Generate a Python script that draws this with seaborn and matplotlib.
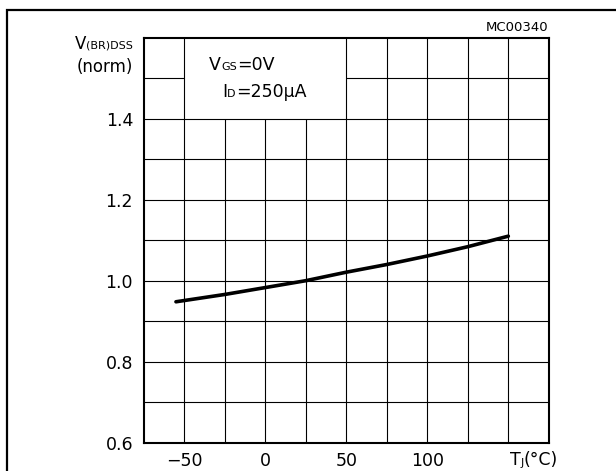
import matplotlib
matplotlib.use("Agg")
import matplotlib.pyplot as plt
import seaborn as sns
from matplotlib.patches import Rectangle

# curve
temps = [-55, -50, -25, 0, 25, 50, 75, 100, 125, 150]
vbr_norm = [0.948, 0.951, 0.966, 0.983, 1.000, 1.021, 1.040, 1.061, 1.084, 1.110]

x_ticks = [-50, 0, 50, 100]
y_ticks = [0.6, 0.8, 1.0, 1.2, 1.4]
x_grid = [-50, -25, 0, 25, 50, 75, 100, 125, 150]
y_grid = [0.7, 0.8, 0.9, 1.0, 1.1, 1.2, 1.3, 1.4]

sns.set_theme(style="white")
plt.rcParams["font.family"] = ["DejaVu Sans"]
plt.rcParams["text.color"] = "black"

fig = plt.figure(figsize=(6.16, 4.71), dpi=100)
ax = fig.add_axes([0.233, 0.060, 0.658, 0.860])
ax.set_xlim(-75, 175)
ax.set_ylim(0.6, 1.6)

# grid, with the blank box behind the test conditions
for x in x_grid:
    top = 1.4 if -50 < x < 50 else 1.6
    ax.vlines(x, 0.6, top, color="black", lw=0.8, zorder=1)
for y in y_grid:
    ax.hlines(y, -75, 175, color="black", lw=0.8, zorder=1)
ax.hlines(1.5, -75, -50, color="black", lw=0.8, zorder=1)
ax.hlines(1.5, 50, 175, color="black", lw=0.8, zorder=1)

sns.lineplot(x=temps, y=vbr_norm, color="black", lw=2.6, ax=ax, zorder=3)

ax.set_xticks(x_ticks)
ax.set_xticklabels(["\u221250", "0", "50", "100"])
ax.set_yticks(y_ticks)
ax.set_yticklabels(["0.6", "0.8", "1.0", "1.2", "1.4"])
ax.tick_params(axis="both", length=0, labelsize=12.5, colors="black")
ax.tick_params(axis="x", pad=6.5)
ax.tick_params(axis="y", pad=7.5)
ax.set_xlabel("")
ax.set_ylabel("")
for s in ax.spines.values():
    s.set_color("black")
    s.set_linewidth(1.5)
    s.set_zorder(4)


def rich_left(ax, xy, coords, parts):
    s, fs = parts[0]
    t = ax.annotate(s, xy=xy, xycoords=coords, fontsize=fs, ha="left", va="baseline")
    prev = fs
    for s, fs in parts[1:]:
        t = ax.annotate(s, xy=(1, 0), xycoords=t, xytext=(0, 0.21 * prev),
                        textcoords="offset points", fontsize=fs, ha="left", va="baseline")
        prev = fs


def rich_right(ax, xy, coords, parts):
    s, fs = parts[-1]
    t = ax.annotate(s, xy=xy, xycoords=coords, fontsize=fs, ha="right", va="baseline")
    prev = fs
    for s, fs in reversed(parts[:-1]):
        t = ax.annotate(s, xy=(0, 0), xycoords=t, xytext=(0, 0.21 * prev),
                        textcoords="offset points", fontsize=fs, ha="right", va="baseline")
        prev = fs


rich_left(ax, (-34.5, 1.52), "data", [("V", 12.5), ("GS", 8), ("=0V", 12.5)])
rich_left(ax, (-26.5, 1.454), "data", [("I", 12.5), ("D", 8), ("=250\u00b5A", 12.5)])

rich_right(ax, (133 / 616, 1 - 49 / 471), "figure fraction", [("V", 12), ("(BR)DSS", 8)])
fig.text(133 / 616, 1 - 71.5 / 471, "(norm)", fontsize=12, ha="right", va="baseline")

rich_left(ax, (151, -0.056), ("data", "axes fraction"), [("T", 12.5), ("J", 8), ("(\u00b0C)", 12.5)])

ax.text(1.0, 1.008, "MC00340", transform=ax.transAxes, fontsize=9.5, ha="right", va="bottom")

# outer frame, cut off at the right and bottom of the picture
fig.add_artist(Rectangle((7 / 616, -0.1), 1.2, 1.1 - 9.5 / 471, transform=fig.transFigure,
                         fill=False, edgecolor="black", lw=1.6))

fig.savefig("out.png", dpi=100)
